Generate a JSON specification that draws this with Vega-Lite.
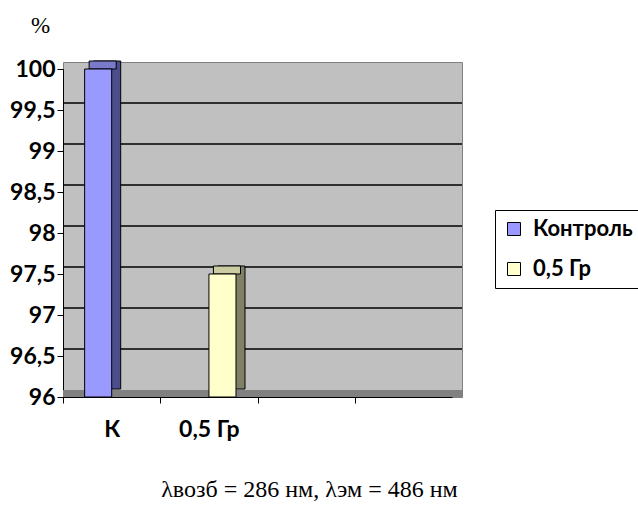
{
  "$schema": "https://vega.github.io/schema/vega-lite/v6.json",
  "width": 399,
  "height": 335,
  "autosize": "none",
  "padding": {"left": 63, "top": 62, "right": 176, "bottom": 114},
  "background": "white",
  "title": {
    "text": "λвозб = 286 нм, λэм = 486 нм",
    "orient": "bottom",
    "anchor": "middle",
    "dx": 47,
    "offset": 37,
    "font": "Liberation Serif",
    "fontSize": 24,
    "fontWeight": "normal",
    "color": "black"
  },
  "datasets": {
    "bars": [
      {"cat": "К", "group": "Контроль", "value": 100},
      {"cat": "0,5 Гр", "group": "0,5 Гр", "value": 97.5}
    ],
    "grid": [
      {"level": 96.5}, {"level": 97}, {"level": 97.5}, {"level": 98},
      {"level": 98.5}, {"level": 99}, {"level": 99.5}
    ],
    "floor": [{"level": 96}]
  },
  "resolve": {"scale": {"xOffset": "independent"}},
  "layer": [
    {
      "data": {"name": "grid"},
      "mark": {"type": "rule", "color": "black", "strokeWidth": 1.5, "yOffset": -7},
      "encoding": {
        "y": {
          "field": "level",
          "type": "quantitative",
          "scale": {"domain": [96, 100], "range": [335, 7], "zero": false, "nice": false},
          "axis": {
            "values": [96, 96.5, 97, 97.5, 98, 98.5, 99, 99.5, 100],
            "labelExpr": "replace(toString(datum.value), '.', ',')",
            "labelFont": "Lato",
            "labelFontWeight": "bold",
            "labelFontSize": 23,
            "labelColor": "black",
            "labelPadding": 2,
            "tickSize": 6,
            "tickColor": "black",
            "domainColor": "black",
            "grid": false,
            "title": "%",
            "titleAngle": 0,
            "titleX": -23,
            "titleY": -37,
            "titleAlign": "center",
            "titleBaseline": "middle",
            "titleFont": "Liberation Serif",
            "titleFontSize": 23,
            "titleFontWeight": "normal",
            "titleColor": "black"
          }
        }
      }
    },
    {
      "data": {"name": "floor"},
      "mark": {"type": "rule", "color": "#808080", "strokeWidth": 7, "yOffset": -3.5},
      "encoding": {
        "y": {"field": "level", "type": "quantitative"}
      }
    },
    {
      "data": {"name": "bars"},
      "mark": {"type": "bar", "yOffset": -8, "y2Offset": -8, "stroke": "black", "strokeWidth": 1},
      "encoding": {
        "x": {"field": "cat", "type": "nominal", "sort": null},
        "xOffset": {
          "field": "group",
          "type": "nominal",
          "scale": {"domain": ["Контроль", "0,5 Гр"], "range": [9, 63.1]}
        },
        "y": {"field": "value", "type": "quantitative"},
        "y2": {"datum": 96},
        "fill": {
          "condition": {"test": "datum.group === 'Контроль'", "value": "#4d4d8c"},
          "value": "#808066"
        }
      }
    },
    {
      "data": {"name": "bars"},
      "mark": {"type": "bar", "yOffset": -8, "stroke": "black", "strokeWidth": 1},
      "encoding": {
        "x": {"field": "cat", "type": "nominal", "sort": null},
        "xOffset": {
          "field": "group",
          "type": "nominal",
          "scale": {"domain": ["Контроль", "0,5 Гр"], "range": [4.5, 58.6]}
        },
        "y": {"field": "value", "type": "quantitative"},
        "y2": {"field": "value"},
        "fill": {
          "condition": {"test": "datum.group === 'Контроль'", "value": "#7a7acc"},
          "value": "#cccca3"
        }
      }
    },
    {
      "data": {"name": "bars"},
      "mark": {"type": "bar", "stroke": "black", "strokeWidth": 1, "opacity": 1},
      "encoding": {
        "x": {
          "field": "cat",
          "type": "nominal",
          "sort": null,
          "scale": {
            "domain": ["К", "0,5 Гр", "c3", "c4"],
            "range": [0, 389],
            "paddingInner": 0.445,
            "paddingOuter": 0.2225
          },
          "axis": {
            "title": null,
            "tickOffset": -48.6,
            "labelOffset": 48.6,
            "labelAlign": "center",
            "labelExpr": "datum.value === 'c3' || datum.value === 'c4' ? '' : datum.value",
            "labelAngle": 0,
            "labelPadding": 26,
            "labelFont": "Lato",
            "labelFontWeight": "bold",
            "labelFontSize": 23,
            "labelColor": "black",
            "tickSize": 6,
            "tickColor": "black",
            "domainColor": "black",
            "grid": false
          }
        },
        "xOffset": {
          "field": "group",
          "type": "nominal",
          "scale": {"domain": ["Контроль", "0,5 Гр"], "range": [0, 54.1]}
        },
        "y": {"field": "value", "type": "quantitative"},
        "y2": {"datum": 96},
        "color": {
          "field": "group",
          "type": "nominal",
          "scale": {"domain": ["Контроль", "0,5 Гр"], "range": ["#9999ff", "#ffffcc"]},
          "legend": {
            "title": null,
            "orient": "none",
            "legendX": 432,
            "legendY": 148,
            "labelFont": "Lato",
            "labelFontWeight": "bold",
            "labelFontSize": 22,
            "labelColor": "black",
            "labelLimit": 300,
            "labelOffset": 8,
            "symbolType": "square",
            "symbolSize": 169,
            "symbolStrokeColor": "black",
            "symbolStrokeWidth": 1,
            "symbolOpacity": 1,
            "strokeColor": "black",
            "fillColor": "white",
            "padding": 8,
            "rowPadding": 18
          }
        }
      }
    }
  ],
  "config": {
    "view": {"fill": "#c0c0c0", "stroke": "#808080", "strokeWidth": 1}
  }
}
